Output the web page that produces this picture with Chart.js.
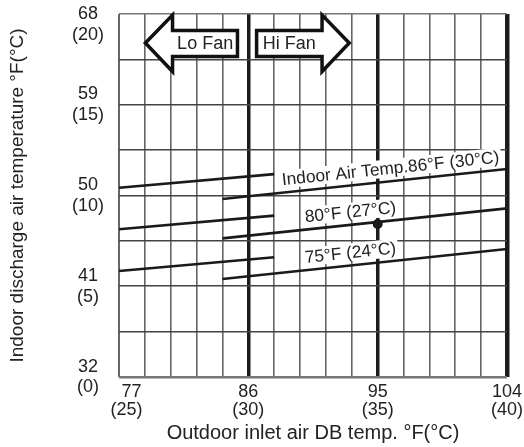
<!DOCTYPE html>
<html><head><meta charset="utf-8">
<script src="https://cdn.jsdelivr.net/npm/chart.js@4"></script>
<style>html,body{margin:0;padding:0;background:#fff}</style>
</head><body>
<canvas id="c" width="524" height="447"></canvas>
<script>
// ---- data (°C on the scales, °F shown first in labels) ----
const xTicksC = [25, 30, 35, 40];
const xTicksF = ['77', '86', '95', '104'];
const yTicksC = [0, 5, 10, 15, 20];
const yTicksF = ['32', '41', '50', '59', '68'];
const loFanX = [25, 31];
const hiFanX = [29, 40];
const t86Lo = [10.43, 11.18];
const t86Hi = [9.81, 11.46];
const t80Lo = [8.14, 8.89];
const t80Hi = [7.64, 9.29];
const t75Lo = [5.84, 6.60];
const t75Hi = [5.40, 7.05];
const markerX = [35];
const markerY = [8.43];
const seriesLabels = ['Indoor Air Temp.86°F (30°C)', '80°F (27°C)', '75°F (24°C)'];
const fanLabels = ['Lo Fan', 'Hi Fan'];
const xTitle = 'Outdoor inlet air DB temp. °F(°C)';
const yTitle = 'Indoor discharge air temperature °F(°C)';

const FONT = "'Liberation Sans', Arial, Helvetica, sans-serif";
const INK = '#1a1a1a';
const pts = (xs, ys) => xs.map((v, i) => ({x: v, y: ys[i]}));
const lineDs = (xs, ys) => ({
  type: 'line', data: pts(xs, ys), borderColor: INK, borderWidth: 2.6,
  pointRadius: 0, tension: 0, fill: false, borderCapStyle: 'butt'
});

const decor = {
  id: 'decor',
  beforeDatasetsDraw(chart) {
    const {ctx, scales: {x, y}} = chart;
    const X = v => x.getPixelForValue(v), Y = v => y.getPixelForValue(v);
    ctx.save();
    // fan arrows
    const arrows = [
      {shape: [[26.02,18.40],[27.07,19.94],[27.07,19.09],[29.58,19.09],[29.58,17.66],[27.07,17.66],[27.07,16.83]], tx: 28.33, text: fanLabels[0]},
      {shape: [[33.90,18.40],[32.85,19.94],[32.85,19.09],[30.32,19.09],[30.32,17.66],[32.85,17.66],[32.85,16.83]], tx: 31.58, text: fanLabels[1]}
    ];
    arrows.forEach(a => {
      ctx.beginPath();
      a.shape.forEach((p, i) => i ? ctx.lineTo(X(p[0]), Y(p[1])) : ctx.moveTo(X(p[0]), Y(p[1])));
      ctx.closePath();
      ctx.fillStyle = '#fff';
      ctx.fill();
      ctx.lineWidth = 3.5;
      ctx.lineJoin = 'miter';
      ctx.strokeStyle = '#111';
      ctx.stroke();
      ctx.fillStyle = '#222';
      ctx.font = '18px ' + FONT;
      ctx.textAlign = 'center';
      ctx.textBaseline = 'middle';
      ctx.fillText(a.text, X(a.tx), Y(18.38) + 1);
    });
    // series labels along the Hi Fan lines
    const his = [t86Hi, t80Hi, t75Hi];
    const lx = [35.55, 34.0, 34.0];
    his.forEach((ys, i) => {
      const x0 = X(hiFanX[0]), y0 = Y(ys[0]), x1 = X(hiFanX[1]), y1 = Y(ys[1]);
      const ang = Math.atan2(y1 - y0, x1 - x0);
      const f = (lx[i] - hiFanX[0]) / (hiFanX[1] - hiFanX[0]);
      const yv = ys[0] + f * (ys[1] - ys[0]);
      ctx.save();
      ctx.translate(X(lx[i]), Y(yv));
      ctx.rotate(ang);
      ctx.translate(0, -13);
      ctx.font = '17.3px ' + FONT;
      const w = ctx.measureText(seriesLabels[i]).width;
      ctx.fillStyle = '#fff';
      ctx.fillRect(-w / 2 - 2, -9, w + 4, 18);
      ctx.fillStyle = '#222';
      ctx.textAlign = 'center';
      ctx.textBaseline = 'middle';
      ctx.fillText(seriesLabels[i], 0, 1);
      ctx.restore();
    });
    ctx.restore();
  }
};

new Chart(document.getElementById('c'), {
  type: 'line',
  data: {
    datasets: [
      lineDs(loFanX, t86Lo), lineDs(hiFanX, t86Hi),
      lineDs(loFanX, t80Lo), lineDs(hiFanX, t80Hi),
      lineDs(loFanX, t75Lo), lineDs(hiFanX, t75Hi),
      {type: 'scatter', data: pts(markerX, markerY), pointRadius: 5, pointBackgroundColor: INK, pointBorderWidth: 0, showLine: false}
    ]
  },
  options: {
    responsive: false, animation: false, devicePixelRatio: 1,
    layout: {padding: {top: 14, right: 17, left: 0, bottom: 0}},
    plugins: {legend: {display: false}, tooltip: {enabled: false}},
    scales: {
      x: {
        type: 'linear', min: 25, max: 40,
        border: {display: false},
        grid: {
          drawTicks: false,
          color: c => [30, 35, 40].includes(c.tick.value) ? '#1c1c1c' : '#666',
          lineWidth: c => c.tick.value === 40 ? 4.5 : ([30, 35].includes(c.tick.value) ? 3.5 : (c.tick.value === 25 ? 2 : 1.6))
        },
        ticks: {
          stepSize: 1, autoSkip: false, maxRotation: 0, padding: 6, color: '#222',
          font: {family: FONT, size: 18, lineHeight: 1.0},
          callback: v => {
            const i = xTicksC.indexOf(v);
            if (i < 0) return '';
            if (i === 0) return ['     ' + xTicksF[i], '   (' + xTicksC[i] + ')'];
            return [xTicksF[i], '(' + xTicksC[i] + ')'];
          }
        },
        title: {display: true, text: xTitle, color: '#222', font: {family: FONT, size: 20, lineHeight: 1.2}, padding: {top: 0, bottom: 2}},
        afterFit: s => { s.height = 70; s.paddingLeft = 0; s.paddingRight = 0; }
      },
      y: {
        type: 'linear', min: 0, max: 20,
        border: {display: false},
        grid: {
          drawTicks: false,
          color: c => (c.tick.value === 0 || c.tick.value === 20) ? '#777' : '#444',
          lineWidth: c => (c.tick.value === 0) ? 2.5 : 1.6
        },
        ticks: {
          stepSize: 2.5, autoSkip: false, crossAlign: 'center', padding: 15, color: '#222',
          font: {family: FONT, size: 18, lineHeight: 1.15},
          callback: v => {
            const i = yTicksC.indexOf(v);
            if (i < 0) return '';
            const lab = [yTicksF[i], '(' + yTicksC[i] + ')'];
            return v === 20 ? [''].concat(lab) : lab;
          }
        },
        title: {display: true, text: yTitle, color: '#222', font: {family: FONT, size: 19, lineHeight: 1.2}, padding: {top: 6, bottom: 0}},
        afterFit: s => { s.width = 119; s.paddingTop = 0; s.paddingBottom = 0; }
      }
    }
  },
  plugins: [decor]
});
</script>
</body></html>
